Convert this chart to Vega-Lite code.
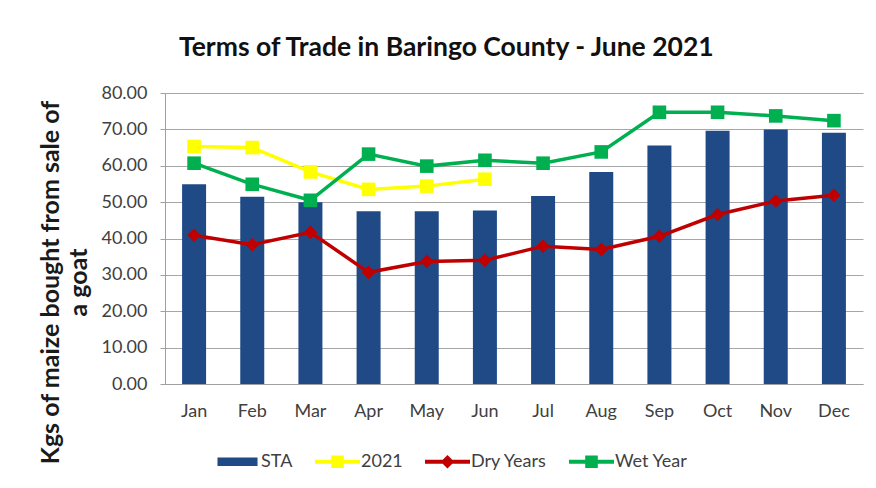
{
  "$schema": "https://vega.github.io/schema/vega-lite/v6.json",
  "width": 698,
  "height": 291,
  "autosize": {"type": "none"},
  "padding": {"left": 165, "top": 93, "right": 13, "bottom": 104},
  "background": "white",
  "config": {
    "font": "Lato",
    "view": {"stroke": null},
    "axis": {"labelFont": "Lato", "titleFont": "Lato"}
  },
  "title": {
    "text": "Terms of Trade in Baringo County - June  2021",
    "anchor": "start",
    "frame": "group",
    "dx": 14,
    "offset": 23,
    "fontSize": 26.5,
    "fontWeight": "bold",
    "font": "Lato",
    "color": "#111111"
  },
  "data": {
    "values": [
      {"month": "Jan", "series": "STA", "value": 54.9},
      {"month": "Feb", "series": "STA", "value": 51.5},
      {"month": "Mar", "series": "STA", "value": 50.0},
      {"month": "Apr", "series": "STA", "value": 47.5},
      {"month": "May", "series": "STA", "value": 47.5},
      {"month": "Jun", "series": "STA", "value": 47.7},
      {"month": "Jul", "series": "STA", "value": 51.7},
      {"month": "Aug", "series": "STA", "value": 58.3},
      {"month": "Sep", "series": "STA", "value": 65.6},
      {"month": "Oct", "series": "STA", "value": 69.6},
      {"month": "Nov", "series": "STA", "value": 70.0},
      {"month": "Dec", "series": "STA", "value": 69.1},
      {"month": "Jan", "series": "2021", "value": 65.3},
      {"month": "Feb", "series": "2021", "value": 65.0},
      {"month": "Mar", "series": "2021", "value": 58.3},
      {"month": "Apr", "series": "2021", "value": 53.5},
      {"month": "May", "series": "2021", "value": 54.4},
      {"month": "Jun", "series": "2021", "value": 56.3},
      {"month": "Jan", "series": "Dry Years", "value": 40.9},
      {"month": "Feb", "series": "Dry Years", "value": 38.3},
      {"month": "Mar", "series": "Dry Years", "value": 41.7},
      {"month": "Apr", "series": "Dry Years", "value": 30.7},
      {"month": "May", "series": "Dry Years", "value": 33.7},
      {"month": "Jun", "series": "Dry Years", "value": 34.0},
      {"month": "Jul", "series": "Dry Years", "value": 37.9},
      {"month": "Aug", "series": "Dry Years", "value": 37.0},
      {"month": "Sep", "series": "Dry Years", "value": 40.6},
      {"month": "Oct", "series": "Dry Years", "value": 46.6},
      {"month": "Nov", "series": "Dry Years", "value": 50.3},
      {"month": "Dec", "series": "Dry Years", "value": 51.9},
      {"month": "Jan", "series": "Wet Year", "value": 60.7},
      {"month": "Feb", "series": "Wet Year", "value": 54.9},
      {"month": "Mar", "series": "Wet Year", "value": 50.5},
      {"month": "Apr", "series": "Wet Year", "value": 63.2},
      {"month": "May", "series": "Wet Year", "value": 59.9},
      {"month": "Jun", "series": "Wet Year", "value": 61.5},
      {"month": "Jul", "series": "Wet Year", "value": 60.7},
      {"month": "Aug", "series": "Wet Year", "value": 63.8},
      {"month": "Sep", "series": "Wet Year", "value": 74.7},
      {"month": "Oct", "series": "Wet Year", "value": 74.7},
      {"month": "Nov", "series": "Wet Year", "value": 73.7},
      {"month": "Dec", "series": "Wet Year", "value": 72.4}
    ]
  },
  "encoding": {
    "x": {
      "field": "month",
      "type": "ordinal",
      "sort": ["Jan","Feb","Mar","Apr","May","Jun","Jul","Aug","Sep","Oct","Nov","Dec"],
      "axis": {
        "title": null,
        "labelAngle": 0,
        "ticks": false,
        "labelFontSize": 18,
        "labelColor": "#404040",
        "labelPadding": 18,
        "domainColor": "#A0A0A0",
        "grid": false
      }
    },
    "y": {
      "field": "value",
      "type": "quantitative",
      "scale": {"domain": [0, 80], "nice": false},
      "axis": {
        "values": [0,10,20,30,40,50,60,70,80],
        "format": ".2f",
        "labelFontSize": 18,
        "labelColor": "#404040",
        "labelPadding": 13,
        "tickSize": 5,
        "tickColor": "#A0A0A0",
        "domainColor": "#A0A0A0",
        "gridColor": "#A6A6A6",
        "title": ["Kgs of maize bought from sale of", "a goat"],
        "titleFontSize": 25,
        "titleFontWeight": "bold",
        "titleColor": "#1a1a1a",
        "titleLineHeight": 28,
        "titleAngle": 270,
        "titleAlign": "center",
        "titleBaseline": "alphabetic",
        "titleX": -107,
        "titleY": 189
      }
    },
    "color": {
      "field": "series",
      "type": "nominal",
      "scale": {
        "domain": ["STA", "2021", "Dry Years", "Wet Year"],
        "range": ["#1F4A86", "#FFFF00", "#C00000", "#00B050"]
      },
      "legend": {
        "title": null,
        "orient": "none",
        "direction": "horizontal",
        "legendX": 50,
        "legendY": 346,
        "symbolSize": 2025,
        "labelFontSize": 18,
        "labelColor": "#404040",
        "labelOffset": 1,
        "columnPadding": 22,
        "encode": {
          "symbols": {
            "update": {
              "shape": {"signal": "datum.value === 'STA' ? 'M-0.89,-0.19H0.89V0.19H-0.89Z' : datum.value === 'Dry Years' ? 'M-1,-0.09H1V0.09H-1Z M0,-0.3L0.3,0L0,0.3L-0.3,0Z' : 'M-1,-0.09H1V0.09H-1Z M-0.28,-0.28H0.28V0.28H-0.28Z'"},
              "fill": {"scale": "color", "field": "value"},
              "strokeWidth": {"value": 0},
              "opacity": {"value": 1}
            }
          }
        }
      }
    }
  },
  "layer": [
    {
      "transform": [{"filter": "datum.series === 'STA'"}],
      "mark": {"type": "bar", "size": 24}
    },
    {
      "transform": [{"filter": "datum.series !== 'STA'"}],
      "mark": {"type": "line", "strokeWidth": 3.5}
    },
    {
      "transform": [{"filter": "datum.series !== 'STA'"}],
      "mark": {"type": "point", "filled": true, "opacity": 1},
      "encoding": {
        "shape": {
          "field": "series",
          "type": "nominal",
          "scale": {"domain": ["2021", "Dry Years", "Wet Year"], "range": ["square", "diamond", "square"]},
          "legend": null
        },
        "size": {"value": 185}
      }
    }
  ]
}
